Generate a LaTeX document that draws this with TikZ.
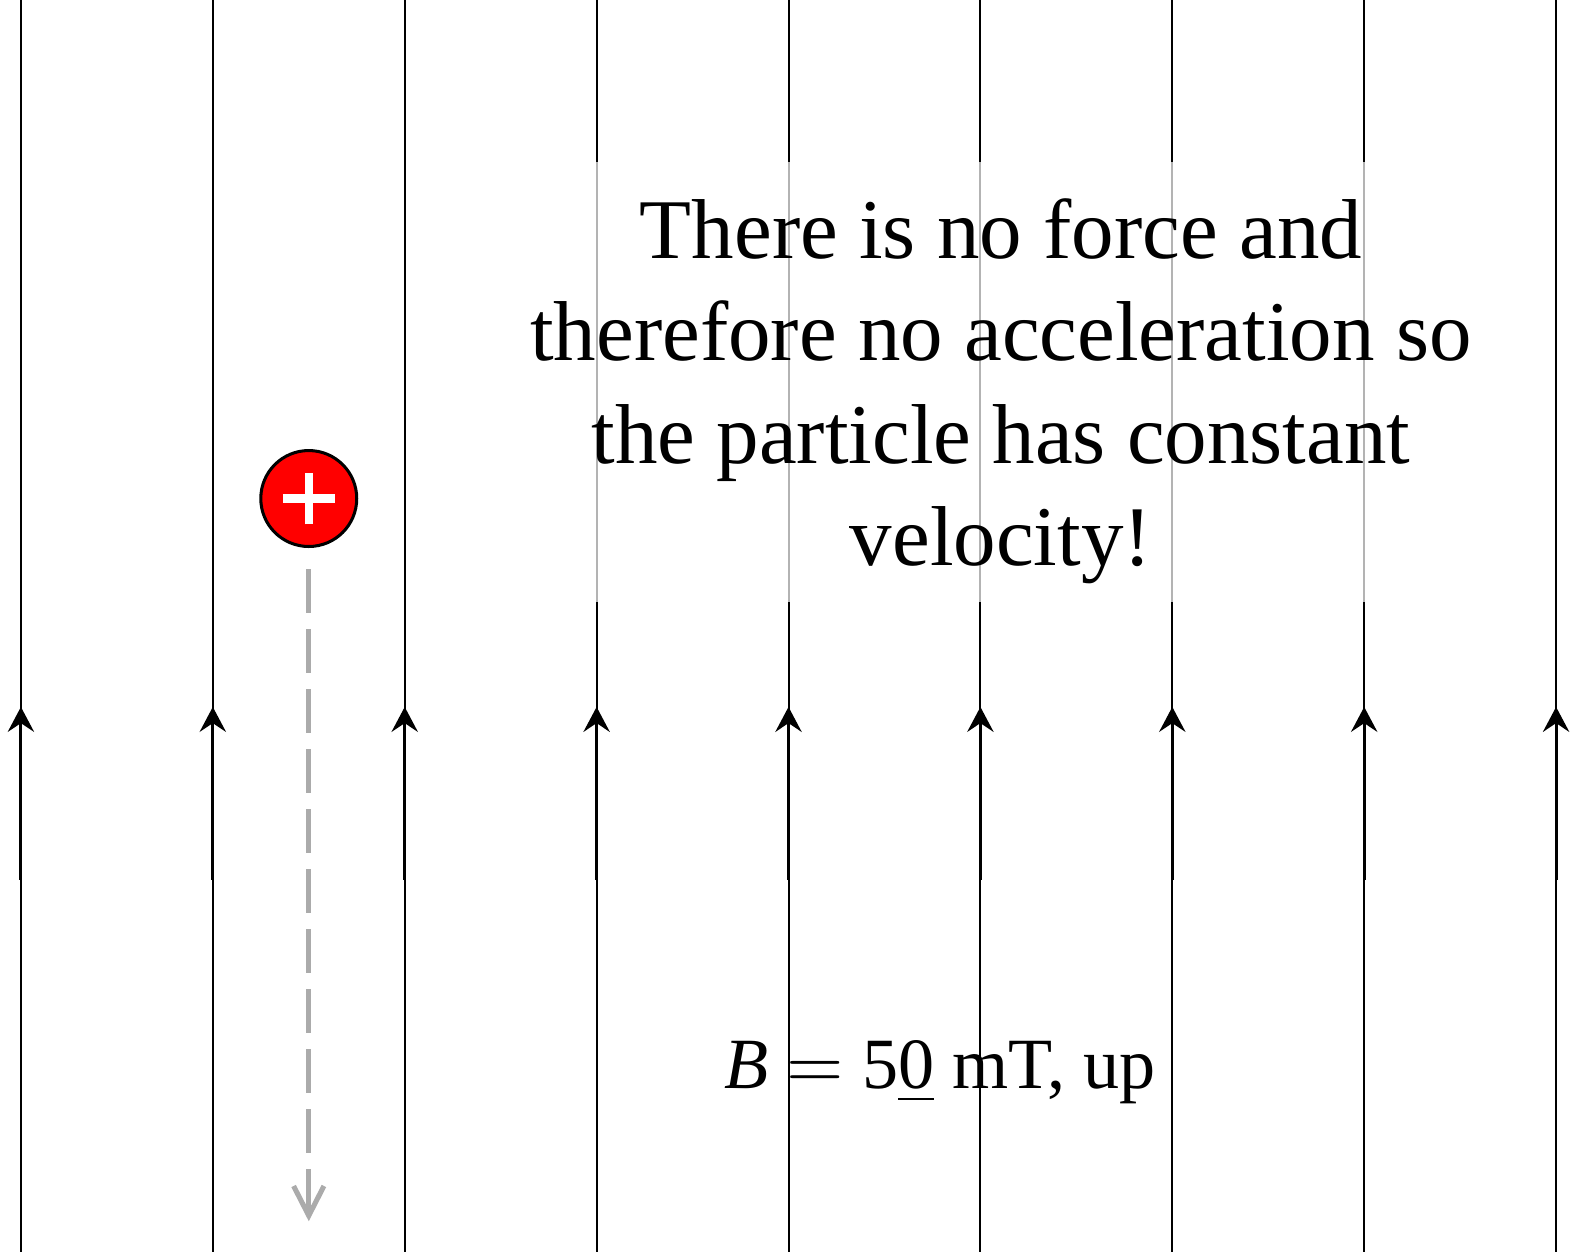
\documentclass[tikz,border=0pt]{standalone}
\usepackage{fontspec}
\setmainfont{Liberation Serif}
\usepackage{tikz}
\usetikzlibrary{arrows.meta, positioning}

\begin{document}
\begin{tikzpicture}[
	fieldline/.style={line width=0.3pt, black},
	fieldarrow/.style={line width=0.45pt, black, -{Stealth[length=3.7pt, width=3.9pt, inset=1.3pt]}},
	path/.style={line width=0.75pt, black!33, dash pattern=on 6.5pt off 2.4pt, -{Straight Barb[length=4.4pt, width=4.5pt]}},
	charge/.style={circle, draw=black, line width=0.45pt, fill=red, minimum size=0.5cm, inner sep=0pt}
]
	\useasboundingbox (-0.109,0) rectangle (8.088,6.524);
	% uniform field, pointing up
	\foreach \i in {0,...,8}{
		\draw[fieldline] (\i,0) -- (\i,6.524);
		\draw[fieldarrow] (\i,1.94) -- (\i,2.84);
	}
	% particle and its straight path
	\node[charge] (q) at (1.5,3.926) {};
	\draw[white, line width=1.2pt] ([xshift=-0.135cm]q.center) -- ([xshift=0.135cm]q.center);
	\draw[white, line width=1.2pt] ([yshift=-0.135cm]q.center) -- ([yshift=0.135cm]q.center);
	\coordinate (qend) at (1.5,0.16);
	\draw[path, shorten <=0.11cm] (q) -- (qend);
	% labels
	\node[fill=white, fill opacity=0.7, text opacity=1, align=center, inner ysep=2.7pt,
		font=\fontsize{12.6}{15.2}\selectfont] (note) at (5.107,4.531)
		{\rule{0pt}{11.5pt}There is no force and\\therefore no acceleration so\\the particle has constant\\velocity!};
	\node[anchor=base, font=\fontsize{10.7}{12.8}\selectfont, inner sep=0pt] (Blabel) at (4.79,0.85)
		{\textit{B} $=$ 5\underline{0} mT, up};
\end{tikzpicture}
\end{document}
